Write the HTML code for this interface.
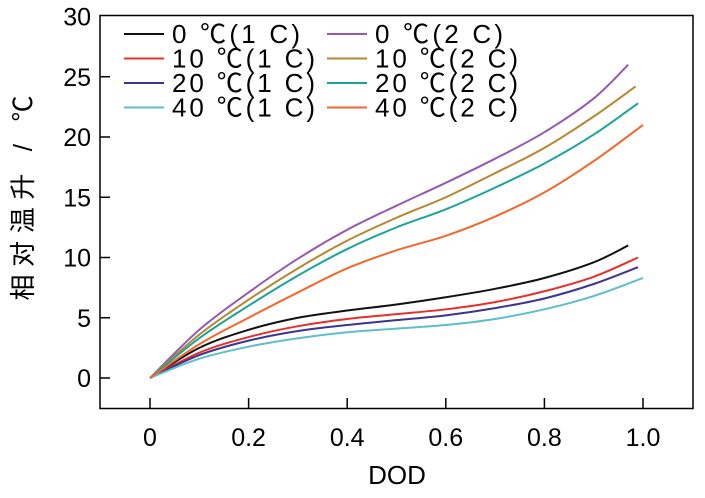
<!DOCTYPE html>
<html><head><meta charset="utf-8"><style>
body{margin:0;background:#fff;}
svg text{font-family:"Liberation Sans","Noto Sans CJK SC",sans-serif;fill:#000;}
</style></head><body>
<svg id="c" width="705" height="493" xmlns="http://www.w3.org/2000/svg"></svg>
<script>
const xs = [0,0.1,0.2,0.3,0.4,0.5,0.6,0.7,0.8,0.9];
const seriesNames = ["0 ℃(1 C)","10 ℃(1 C)","20 ℃(1 C)","40 ℃(1 C)","0 ℃(2 C)","10 ℃(2 C)","20 ℃(2 C)","40 ℃(2 C)"];
const seriesColors = ["#111111","#e8302a","#3a3590","#5cbfca","#9559b0","#b8862e","#1aa59a","#f2672a"];
const endX = [0.97,0.99,0.99,1.0,0.97,0.985,0.99,1.0];
const s0 = [0,2.5,4.0,5.0,5.6,6.1,6.7,7.4,8.3,9.6,11.0];
const s1 = [0,2.1,3.4,4.3,4.9,5.3,5.7,6.3,7.2,8.4,10.0];
const s2 = [0,1.9,3.1,3.9,4.4,4.8,5.2,5.8,6.6,7.8,9.2];
const s3 = [0,1.6,2.6,3.3,3.8,4.1,4.4,4.9,5.7,6.8,8.3];
const s4 = [0,4.0,7.1,9.9,12.3,14.3,16.2,18.2,20.4,23.2,26.0];
const s5 = [0,3.6,6.5,9.1,11.4,13.3,15.0,17.0,19.1,21.7,24.2];
const s6 = [0,3.3,6.0,8.5,10.7,12.5,14.0,15.8,17.8,20.2,22.8];
const s7 = [0,2.8,5.0,7.1,9.1,10.6,11.8,13.4,15.4,18.0,21.0];
const allSeries = [s0,s1,s2,s3,s4,s5,s6,s7];
const xTicks = [0,0.2,0.4,0.6,0.8,1.0];
const xTickLabels = ["0","0.2","0.4","0.6","0.8","1.0"];
const yTicks = [0,5,10,15,20,25,30];

const NS="http://www.w3.org/2000/svg";
const svg=document.getElementById('c');
const X=v=>150+v*493;
const Y=v=>378-v*12.05;
function mk(t,a,p){const e=document.createElementNS(NS,t);for(const k in a)e.setAttribute(k,a[k]);(p||svg).appendChild(e);return e;}

const frame=mk('rect',{x:100,y:15.5,width:593,height:393,fill:'none',stroke:'#000','stroke-width':1.5});



yTicks.forEach(v=>{
  if(v<30){const t=mk('line',{x1:100,x2:110,y1:Y(v),y2:Y(v),stroke:'#000','stroke-width':1.5});
  
  }
  const l=mk('text',{x:91,y:Y(v)+9,'text-anchor':'end','font-size':25});
  l.textContent=v;
  
  
});
xTicks.forEach((v,i)=>{
  const t=mk('line',{x1:X(v),x2:X(v),y1:408,y2:398,stroke:'#000','stroke-width':1.5});
  
  
  const l=mk('text',{x:X(v),y:446,'text-anchor':'middle','font-size':25});
  l.textContent=xTickLabels[i];
  
  
});
const xt=mk('text',{x:397,y:484,'text-anchor':'middle','font-size':26});
xt.textContent='DOD';


const yt=mk('text',{x:0,y:0,'text-anchor':'middle','font-size':26,textLength:205,lengthAdjust:'spacing',transform:'translate(32,198) rotate(-90)'});
yt.textContent='相对温升 / ℃';



function path(pts){
  let d=`M${pts[0][0]},${pts[0][1]}`;
  for(let i=0;i<pts.length-1;i++){
    const p0=pts[Math.max(0,i-1)],p1=pts[i],p2=pts[i+1],p3=pts[Math.min(pts.length-1,i+2)];
    const c1=[p1[0]+(p2[0]-p0[0])/6,p1[1]+(p2[1]-p0[1])/6];
    const c2=[p2[0]-(p3[0]-p1[0])/6,p2[1]-(p3[1]-p1[1])/6];
    d+=`C${c1[0]},${c1[1]} ${c2[0]},${c2[1]} ${p2[0]},${p2[1]}`;
  }
  return d;
}
allSeries.forEach((s,i)=>{
  const xx=xs.concat([endX[i]]);
  const pts=s.map((v,j)=>[X(xx[j]),Y(v)]);
  const p=mk('path',{d:path(pts),fill:'none',stroke:seriesColors[i],'stroke-width':2});
  
  
});
seriesNames.forEach((n,i)=>{
  const col=i<4?0:1,row=i%4;
  const lx=col?327:124, ly=34+row*24.5;
  const g=mk('g',{});
  
  
  mk('line',{x1:lx,x2:lx+40,y1:ly,y2:ly,stroke:seriesColors[i],'stroke-width':2},g);
  const w=(n.length===8?128:143);
  const tx=mk('text',{x:lx+48,y:ly+9,'font-size':26,textLength:w,lengthAdjust:'spacing'},g);
  tx.textContent=n;
});
</script>
</body></html>
